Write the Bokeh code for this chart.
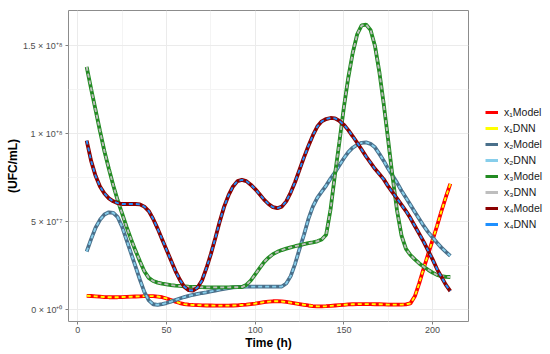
from bokeh.plotting import figure
from bokeh.layouts import row
from bokeh.models import Legend, LegendItem, FixedTicker, Range1d
from bokeh.embed import file_html
from bokeh.resources import INLINE

# ---------------- data (values in units of 1e8 UFC/mL) ----------------
time_h = [5, 7.5, 10, 12.5, 15, 17.5, 20, 22.5, 25, 27.5,
          30, 32.5, 35, 37.5, 40, 42.5, 45, 47.5, 50, 52.5,
          55, 57.5, 60, 62.5, 65, 67.5, 70, 72.5, 75, 77.5,
          80, 82.5, 85, 87.5, 90, 92.5, 95, 97.5, 100, 102.5,
          105, 107.5, 110, 112.5, 115, 117.5, 120, 122.5, 125, 127.5,
          130, 132.5, 135, 137.5, 140, 142.5, 145, 147.5, 150, 152.5,
          155, 157.5, 160, 162.5, 165, 167.5, 170, 172.5, 175, 177.5,
          180, 182.5, 185, 187.5, 190, 192.5, 195, 197.5, 200, 202.5,
          205, 207.5, 210]

x1 = [0.078, 0.077, 0.075, 0.073, 0.071, 0.070, 0.070, 0.070, 0.071, 0.072,
      0.073, 0.074, 0.075, 0.076, 0.076, 0.076, 0.074, 0.070, 0.063, 0.054,
      0.045, 0.037, 0.031, 0.028, 0.026, 0.025, 0.024, 0.023, 0.023, 0.022,
      0.022, 0.022, 0.022, 0.023, 0.024, 0.026, 0.028, 0.031, 0.034, 0.038,
      0.042, 0.045, 0.047, 0.047, 0.046, 0.043, 0.039, 0.035, 0.031, 0.027,
      0.023, 0.020, 0.018, 0.018, 0.019, 0.021, 0.023, 0.025, 0.027, 0.029,
      0.030, 0.031, 0.031, 0.031, 0.031, 0.030, 0.030, 0.029, 0.028, 0.028,
      0.028, 0.028, 0.029, 0.035, 0.075, 0.150, 0.235, 0.315, 0.395, 0.475,
      0.560, 0.640, 0.715]

x2 = [0.330, 0.400, 0.465, 0.510, 0.540, 0.553, 0.550, 0.525, 0.470, 0.395,
      0.320, 0.245, 0.170, 0.100, 0.052, 0.030, 0.027, 0.031, 0.037, 0.045,
      0.054, 0.063, 0.071, 0.078, 0.084, 0.089, 0.094, 0.098, 0.103, 0.108,
      0.113, 0.118, 0.122, 0.126, 0.128, 0.129, 0.130, 0.130, 0.130, 0.130,
      0.130, 0.130, 0.130, 0.130, 0.131, 0.148, 0.190, 0.260, 0.345, 0.425,
      0.515, 0.585, 0.635, 0.670, 0.705, 0.745, 0.780, 0.820, 0.860, 0.895,
      0.920, 0.937, 0.948, 0.950, 0.942, 0.922, 0.885, 0.845, 0.800, 0.760,
      0.720, 0.675, 0.635, 0.595, 0.555, 0.515, 0.475, 0.440, 0.410, 0.380,
      0.352, 0.328, 0.305]

x3 = [1.380, 1.255, 1.135, 1.015, 0.900, 0.800, 0.705, 0.620, 0.545, 0.470,
      0.400, 0.335, 0.275, 0.218, 0.180, 0.162, 0.153, 0.147, 0.143, 0.139,
      0.136, 0.134, 0.132, 0.130, 0.129, 0.128, 0.127, 0.126, 0.126, 0.126,
      0.126, 0.126, 0.126, 0.127, 0.127, 0.128, 0.140, 0.165, 0.200, 0.235,
      0.270, 0.295, 0.315, 0.328, 0.338, 0.346, 0.353, 0.360, 0.366, 0.372,
      0.377, 0.382, 0.388, 0.398, 0.425, 0.570, 0.770, 0.955, 1.150, 1.320,
      1.460, 1.565, 1.615, 1.620, 1.590, 1.500, 1.350, 1.165, 0.960, 0.750,
      0.560, 0.420, 0.345, 0.310, 0.285, 0.262, 0.243, 0.226, 0.210, 0.197,
      0.190, 0.186, 0.185]

x4 = [0.960, 0.845, 0.760, 0.700, 0.660, 0.632, 0.615, 0.605, 0.600, 0.600,
      0.600, 0.600, 0.598, 0.585, 0.560, 0.515, 0.460, 0.400, 0.340, 0.280,
      0.220, 0.170, 0.130, 0.110, 0.108, 0.125, 0.165, 0.235, 0.315, 0.405,
      0.500, 0.585, 0.650, 0.700, 0.730, 0.737, 0.730, 0.710, 0.685, 0.655,
      0.625, 0.600, 0.582, 0.576, 0.585, 0.615, 0.665, 0.725, 0.795, 0.865,
      0.930, 0.990, 1.040, 1.070, 1.083, 1.089, 1.087, 1.072, 1.050, 1.020,
      0.985, 0.948, 0.910, 0.870, 0.835, 0.800, 0.770, 0.740, 0.700, 0.665,
      0.630, 0.595, 0.560, 0.520, 0.475, 0.430, 0.385, 0.335, 0.285, 0.230,
      0.185, 0.140, 0.105]

series = [x1, x2, x3, x4]
model_labels = ["x\u2081Model", "x\u2082Model", "x\u2083Model", "x\u2084Model"]
dnn_labels = ["x\u2081DNN", "x\u2082DNN", "x\u2083DNN", "x\u2084DNN"]
model_colors = ["#FF0000", "#4A708B", "#228B22", "#8B0000"]
dnn_colors = ["#FFFF00", "#87CEEB", "#BEBEBE", "#1E90FF"]

x_ticks = [0, 50, 100, 150, 200]
x_minor = [25, 75, 125, 175]
y_ticks = [0, 0.5, 1.0, 1.5]
y_minor = [0.25, 0.75, 1.25]
y_tick_labels = ["0 \u00d7 10\u207a\u2070", "5 \u00d7 10\u207a\u2077",
                 "1 \u00d7 10\u207a\u2078", "1.5 \u00d7 10\u207a\u2078"]

FONT = "Liberation Sans"
H = 352

p = figure(width=469, height=H,
           x_range=Range1d(-5.25, 220.25), y_range=Range1d(-0.068, 1.70),
           output_backend="svg", toolbar_location=None,
           min_border_left=68, min_border_right=1,
           min_border_top=10, min_border_bottom=25)

p.background_fill_color = "white"
p.border_fill_color = "white"
p.outline_line_color = "#8C8C8C"
p.outline_line_width = 1

p.xaxis.ticker = FixedTicker(ticks=x_ticks, minor_ticks=x_minor)
p.yaxis.ticker = FixedTicker(ticks=y_ticks, minor_ticks=y_minor)
p.yaxis.major_label_overrides = {t: l for t, l in zip(y_ticks, y_tick_labels)}

for ax in (p.xaxis[0], p.yaxis[0]):
    ax.axis_line_color = None
    ax.major_tick_line_color = "#7F7F7F"
    ax.major_tick_out = 3
    ax.major_tick_in = 0
    ax.minor_tick_line_color = None
    ax.major_label_text_font = FONT
    ax.major_label_text_font_size = "9px"
    ax.major_label_text_color = "#4D4D4D"
    ax.axis_label_text_font = FONT
    ax.axis_label_text_font_size = "12px"
    ax.axis_label_text_font_style = "bold"
    ax.axis_label_text_color = "#000000"
    ax.major_label_standoff = 2
    ax.axis_label_standoff = 0
p.xaxis.major_label_standoff = 1

p.xaxis.axis_label = "Time (h)"
p.yaxis.axis_label = "(UFC/mL)"

p.grid.grid_line_color = "#EBEBEB"
p.grid.grid_line_width = 1
p.grid.minor_grid_line_color = "#F4F4F4"
p.grid.minor_grid_line_width = 1

for vals, mc, dc in zip(series, model_colors, dnn_colors):
    p.line(time_h, vals, line_color=mc, line_width=3.8)
    p.line(time_h, vals, line_color=dc, line_width=1.9, line_dash="4 3")

# ---------------- legend panel (separate figure, series kept out of view) ----------------
lg = figure(width=80, height=H, output_backend="svg", toolbar_location=None,
            x_axis_location=None, y_axis_location=None,
            min_border=0, min_border_left=0, min_border_right=0,
            min_border_top=0, min_border_bottom=0,
            x_range=Range1d(1000, 1001), y_range=Range1d(1000, 1001))
lg.grid.visible = False
lg.outline_line_color = None
lg.background_fill_color = "white"
lg.border_fill_color = "white"

items = []
for vals, mc, dc, ml, dl in zip(series, model_colors, dnn_colors, model_labels, dnn_labels):
    rm = lg.line(time_h, vals, line_color=mc, line_width=3)
    rd = lg.line(time_h, vals, line_color=dc, line_width=3)
    items.append(LegendItem(label=ml, renderers=[rm]))
    items.append(LegendItem(label=dl, renderers=[rd]))

legend = Legend(items=items, location=(16, 89))
legend.border_line_color = None
legend.background_fill_alpha = 0
legend.padding = 0
legend.margin = 0
legend.spacing = 0
legend.glyph_width = 13
legend.glyph_height = 16
legend.label_height = 16
legend.label_standoff = 6
legend.label_text_font = FONT
legend.label_text_font_size = "10.5px"
legend.label_text_color = "#1A1A1A"
lg.add_layout(legend, "center")

layout = row(p, lg)
open("out.html", "w").write(file_html(layout, INLINE))
